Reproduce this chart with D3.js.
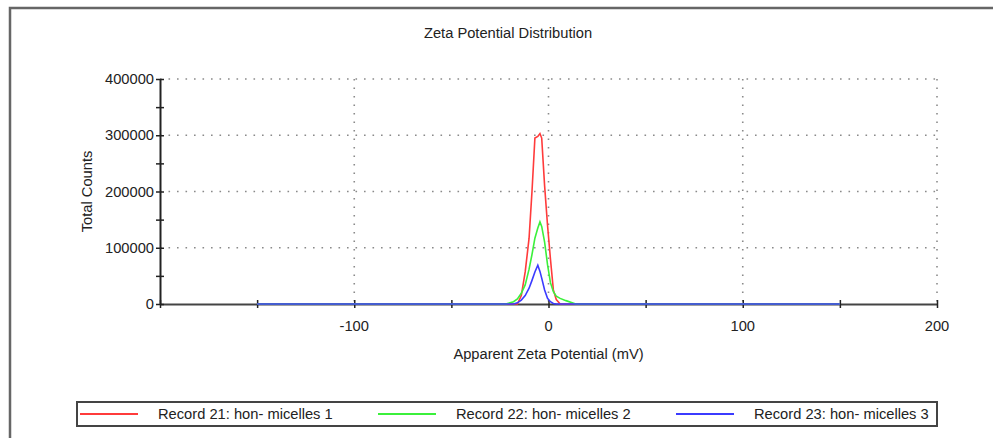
<!DOCTYPE html>
<meta charset="utf-8">
<title>Zeta Potential Distribution</title>
<script src="https://d3js.org/d3.v7.min.js"></script>
<style>
  body { margin: 0; background: #fff; }
  text { font-family: "Liberation Sans", Arial, sans-serif; fill: #222; font-size: 14.7px; }
</style>
<div id="chart"></div>
<script>

// zeta potential (mV) grid shared by all records
var zeta = [-150, -22, -18, -16, -14, -12, -10, -8.5, -7, -5.5, -4.4, -3.5, -2, -0.5, 1, 2.5, 4, 6, 9, 14, 150];

// total counts
var record21 = [0, 0, 0, 0, 15000, 57000, 117000, 200000, 295000, 298000, 303000, 295000, 210000, 140000, 80000, 25000, 8000, 0, 0, 0, 0];
var record22 = [0, 0, 4000, 9000, 19000, 34000, 62000, 88000, 117000, 135000, 146000, 138000, 110000, 70000, 38000, 22000, 14000, 10000, 6000, 0, 0];
var record23 = [0, 0, 0, 2000, 7000, 15000, 28000, 42000, 57000, 69000, 58000, 46000, 25000, 10000, 4000, 1000, 0, 0, 0, 0, 0];

var seriesNames = ["Record 21: hon- micelles 1", "Record 22: hon- micelles 2", "Record 23: hon- micelles 3"];
var seriesColors = ["#ff3b3b", "#3bf03b", "#3b3bff"];

var xTicks = [-100, 0, 100, 200];
var yTicks = [0, 100000, 200000, 300000, 400000];

var W = 993, H = 438;
var margin = {top: 79, right: 56, bottom: 134, left: 160},
    width = W - margin.left - margin.right,
    height = H - margin.top - margin.bottom;

var svg = d3.select("#chart")
  .append("svg")
    .attr("width", W)
    .attr("height", H);

// outer frame (only top and left edges show)
svg.append("path")
  .attr("d", "M10," + H + "V8H" + W)
  .attr("fill", "none")
  .attr("stroke", "#666")
  .attr("stroke-width", 2.5);

svg.append("text")
  .attr("x", 508)
  .attr("y", 38)
  .attr("text-anchor", "middle")
  .text("Zeta Potential Distribution");

var g = svg.append("g")
  .attr("transform", "translate(" + margin.left + "," + margin.top + ")");

var x = d3.scaleLinear().domain([-200, 200]).range([0, width]);
var y = d3.scaleLinear().domain([0, 400000]).range([height, 0]);

// dotted grid
var grid = g.append("g")
  .attr("stroke", "#8a8a8a")
  .attr("stroke-width", 1.6)
  .attr("stroke-dasharray", "1.6,6.9");

grid.selectAll(".gy")
  .data(yTicks.filter(function(d) { return d > 0; }))
  .enter().append("line")
    .attr("x1", 0).attr("x2", width)
    .attr("y1", function(d) { return y(d); })
    .attr("y2", function(d) { return y(d); });

grid.selectAll(".gx")
  .data(xTicks)
  .enter().append("line")
    .attr("x1", function(d) { return x(d); })
    .attr("x2", function(d) { return x(d); })
    .attr("y1", 0).attr("y2", height);

// x axis
var xAxis = g.append("g")
  .attr("transform", "translate(0," + height + ")")
  .call(d3.axisBottom(x).tickValues(d3.range(-200, 201, 50)).tickSize(0).tickFormat(""));
xAxis.select(".domain").attr("stroke", "#444").attr("stroke-width", 2);
xAxis.selectAll(".tick line")
  .attr("y1", -4).attr("y2", 4)
  .attr("stroke", "#222").attr("stroke-width", 1.5);

xAxis.selectAll(".xl")
  .data(xTicks)
  .enter().append("text")
    .attr("x", function(d) { return x(d); })
    .attr("y", 27)
    .attr("text-anchor", "middle")
    .text(function(d) { return d; });

g.append("text")
  .attr("x", x(0))
  .attr("y", height + 55)
  .attr("text-anchor", "middle")
  .text("Apparent Zeta Potential (mV)");

// y axis
var yAxis = g.append("g")
  .call(d3.axisLeft(y).tickValues(d3.range(0, 400001, 50000)).tickSize(0).tickFormat(""));
yAxis.select(".domain").attr("stroke", "#222").attr("stroke-width", 2);
yAxis.selectAll(".tick line")
  .attr("x1", -4).attr("x2", 4)
  .attr("stroke", "#222").attr("stroke-width", 1.5);

yAxis.selectAll(".yl")
  .data(yTicks)
  .enter().append("text")
    .attr("x", -6)
    .attr("y", function(d) { return y(d); })
    .attr("dy", "0.35em")
    .attr("text-anchor", "end")
    .text(function(d) { return d; });

g.append("text")
  .attr("transform", "translate(" + (87 - margin.left) + "," + y(200000) + ") rotate(-90)")
  .attr("text-anchor", "middle")
  .attr("dy", "0.35em")
  .text("Total Counts");

// lines
var line = d3.line()
  .x(function(d) { return x(d[0]); })
  .y(function(d) { return y(d[1]); });

[record21, record22, record23].forEach(function(vals, i) {
  g.append("path")
    .datum(d3.zip(zeta, vals))
    .attr("fill", "none")
    .attr("stroke", seriesColors[i])
    .attr("stroke-width", 1.6)
    .attr("d", line);
});

// legend
var legend = svg.append("g");
legend.append("rect")
  .attr("x", 77).attr("y", 402)
  .attr("width", 860).attr("height", 24)
  .attr("fill", "#fff")
  .attr("stroke", "#444")
  .attr("stroke-width", 2);

var item = legend.selectAll(".item")
  .data(seriesNames)
  .enter().append("g")
    .attr("transform", function(d, i) { return "translate(" + (80 + i * 298) + ",414)"; });

item.append("line")
  .attr("x1", 0).attr("x2", 58)
  .attr("stroke", function(d, i) { return seriesColors[i]; })
  .attr("stroke-width", 2);

item.append("text")
  .attr("x", 78)
  .attr("dy", "0.35em")
  .text(function(d) { return d; });

</script>
